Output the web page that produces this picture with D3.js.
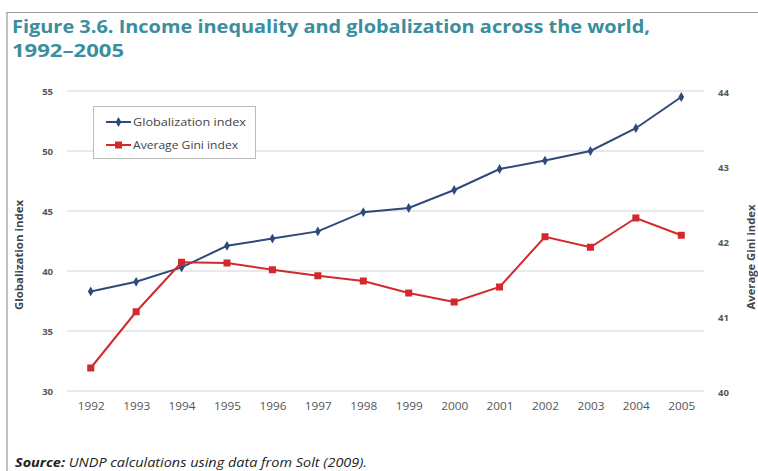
<!DOCTYPE html>
<html><head><meta charset="utf-8">
<script src="https://cdn.jsdelivr.net/npm/d3@7"></script>
<style>body{margin:0;background:#fff;}svg{display:block;}</style>
</head><body>
<svg id="c" width="758" height="471"></svg>
<script>
const years = ["1992","1993","1994","1995","1996","1997","1998","1999","2000","2001","2002","2003","2004","2005"];
const globalization = [38.3,39.1,40.3,42.1,42.7,43.3,44.9,45.25,46.75,48.5,49.2,50.0,51.9,54.5];
const gini = [40.32,41.07,41.73,41.72,41.63,41.55,41.48,41.32,41.2,41.4,42.07,41.93,42.32,42.09];
const leftTicks = [30,35,40,45,50,55];
const rightTicks = [40,41,42,43,44];
const seriesNames = ["Globalization index","Average Gini index"];

const svg = d3.select("#c");
const font = "'Open Sans', 'Liberation Sans', sans-serif";
const teal = "#3a8e9e", blue = "#2f4a7a", red = "#d2282e";

// frame
svg.append("path").attr("d","M7,471 V12.5 H758").attr("fill","none").attr("stroke","#999").attr("stroke-width",1.2);

// title
svg.append("text").attr("x",12).attr("y",33).attr("font-family",font).attr("font-weight","bold").attr("font-size",17).attr("fill",teal)
  .attr("textLength",638).attr("lengthAdjust","spacingAndGlyphs").text("Figure 3.6. Income inequality and globalization across the world,");
svg.append("text").attr("x",12).attr("y",57).attr("font-family",font).attr("font-weight","bold").attr("font-size",17).attr("fill",teal)
  .attr("textLength",112).attr("lengthAdjust","spacingAndGlyphs").text("1992–2005");

const x = d3.scalePoint().domain(years).range([68,704]).padding(0.5);
const yL = d3.scaleLinear().domain([30,55]).range([391,91]);
const yR = d3.scaleLinear().domain([40,44]).range([392,92]);

// gridlines
svg.append("g").selectAll("line").data(leftTicks).join("line")
  .attr("x1",67).attr("x2",704).attr("y1",d=>yL(d)).attr("y2",d=>yL(d))
  .attr("stroke","#d4d4d4").attr("stroke-width",1.2);

// left axis
const gl = svg.append("g").attr("transform","translate(67,0)")
  .call(d3.axisLeft(yL).tickValues(leftTicks).tickFormat(d3.format("d")).tickSize(0).tickPadding(14));
gl.select(".domain").remove();
gl.selectAll("text").attr("font-family",font).attr("font-size",9.5).attr("font-weight","bold").attr("fill","#555");

// right axis
const gr = svg.append("g").attr("transform","translate(704,0)")
  .call(d3.axisRight(yR).tickValues(rightTicks).tickFormat(d3.format("d")).tickSize(0).tickPadding(14));
gr.select(".domain").remove();
gr.selectAll("text").attr("font-family",font).attr("font-size",9.5).attr("font-weight","bold").attr("fill","#555");

// x axis
const gx = svg.append("g").attr("transform","translate(0,391)")
  .call(d3.axisBottom(x).tickSize(0).tickPadding(12));
gx.select(".domain").remove();
gx.selectAll("text").attr("font-family",font).attr("font-size",10.5).attr("fill","#555")
  .attr("textLength",27).attr("lengthAdjust","spacingAndGlyphs");

// axis titles
svg.append("text").attr("transform","translate(23,255) rotate(-90)").attr("text-anchor","middle")
  .attr("font-family",font).attr("font-size",10).attr("font-weight","bold").attr("fill","#444")
  .attr("textLength",110).attr("lengthAdjust","spacingAndGlyphs").text(seriesNames[0]);
svg.append("text").attr("transform","translate(755,257) rotate(-90)").attr("text-anchor","middle")
  .attr("font-family",font).attr("font-size",10).attr("font-weight","bold").attr("fill","#444")
  .attr("textLength",105).attr("lengthAdjust","spacingAndGlyphs").text(seriesNames[1]);

// lines
const lineL = d3.line().x((d,i)=>x(years[i])).y(d=>yL(d));
const lineR = d3.line().x((d,i)=>x(years[i])).y(d=>yR(d));
svg.append("path").datum(globalization).attr("d",lineL).attr("fill","none").attr("stroke",blue).attr("stroke-width",2);
svg.append("path").datum(gini).attr("d",lineR).attr("fill","none").attr("stroke",red).attr("stroke-width",2);

// markers
svg.append("g").selectAll("path").data(globalization).join("path")
  .attr("d",d3.symbol(d3.symbolDiamond,28)).attr("transform",(d,i)=>`translate(${x(years[i])},${yL(d)})`).attr("fill",blue);
svg.append("g").selectAll("rect").data(gini).join("rect")
  .attr("x",(d,i)=>x(years[i])-3.5).attr("y",d=>yR(d)-3.5).attr("width",7).attr("height",7).attr("fill",red);

// legend
const lg = svg.append("g");
lg.append("rect").attr("x",93.5).attr("y",106.5).attr("width",162).attr("height",52).attr("fill","#fff").attr("stroke","#bbb");
const colors=[blue,red];
const legLen=[113,105];
seriesNames.forEach((n,i)=>{
  const yy = 122 + i*23;
  lg.append("line").attr("x1",106).attr("x2",131).attr("y1",yy).attr("y2",yy).attr("stroke",colors[i]).attr("stroke-width",2);
  if(i===0) lg.append("path").attr("d",d3.symbol(d3.symbolDiamond,28)).attr("transform",`translate(118.5,${yy})`).attr("fill",blue);
  else lg.append("rect").attr("x",115).attr("y",yy-3.5).attr("width",7).attr("height",7).attr("fill",red);
  lg.append("text").attr("x",133).attr("y",yy+4).attr("font-family",font).attr("font-size",11).attr("fill","#444")
    .attr("textLength",legLen[i]).attr("lengthAdjust","spacingAndGlyphs").text(n);
});

// source
const src = svg.append("text").attr("x",15).attr("y",467).attr("font-family",font).attr("font-size",12).attr("font-style","italic").attr("fill","#222")
  .attr("textLength",352).attr("lengthAdjust","spacingAndGlyphs");
src.append("tspan").attr("font-weight","bold").text("Source: ");
src.append("tspan").text("UNDP calculations using data from Solt (2009).");
</script>
</body></html>
